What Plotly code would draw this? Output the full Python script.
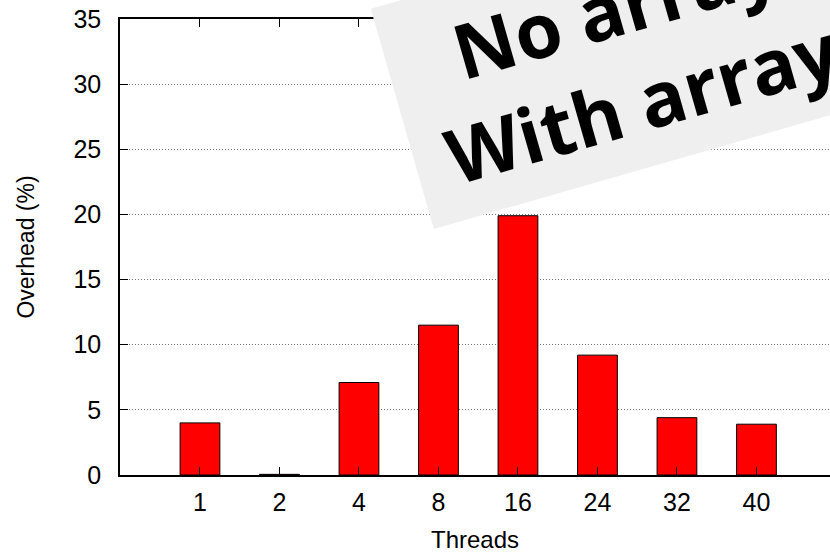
import plotly.graph_objects as go

threads = ["1", "2", "4", "8", "16", "24", "32", "40"]
overhead = [4.0, 0.05, 7.1, 11.5, 19.9, 9.2, 4.4, 3.9]
y_ticks = [0, 5, 10, 15, 20, 25, 30, 35]
note_lines = ["No arrays", "With arrays"]

fig = go.Figure()
fig.add_trace(go.Bar(
    x=threads, y=overhead, width=0.5,
    marker=dict(color="#ff0000", line=dict(color="#000000", width=1)),
))

FAM = "Liberation Sans, Arial, sans-serif"
tick_font = dict(family=FAM, size=25, color="black")
fig.update_layout(
    width=830, height=555,
    margin=dict(l=120, r=0, t=19, b=80),
    paper_bgcolor="white", plot_bgcolor="white",
    showlegend=False,
    font=tick_font,
    xaxis=dict(
        type="category", range=[-1.006, 7.925], automargin=False,
        showline=True, linecolor="black", linewidth=1.5, mirror="ticks",
        ticks="inside", ticklen=8, tickcolor="black", tickwidth=1,
        showgrid=False, tickfont=tick_font, ticklabelstandoff=4,
        title=dict(text="Threads", font=dict(family=FAM, size=24, color="black"), standoff=16),
    ),
    yaxis=dict(
        range=[0, 35], tickvals=y_ticks, automargin=False,
        showline=True, linecolor="black", linewidth=1.5,
        ticks="inside", ticklen=8, tickcolor="black", tickwidth=1,
        showgrid=True, gridcolor="#7a7a7a", griddash="1px,2px", gridwidth=1,
        zeroline=False, tickfont=tick_font, ticklabelstandoff=12,
        title=dict(text="Overhead (%)", font=dict(family=FAM, size=23, color="black"), standoff=32),
    ),
)

nb = "\u00a0"
fig.add_annotation(
    xref="paper", yref="paper",
    x=(646 - 120) / 710, y=(475 - 49) / 456,
    xanchor="center", yanchor="middle",
    text="<br>".join(nb + s + nb for s in note_lines),
    showarrow=False, textangle=-16, align="center",
    font=dict(family="Open Sans, sans-serif", size=76, color="black", weight="bold"),
    bgcolor="#efefef", borderpad=13,
)

fig.write_html("out.html", config={"displayModeBar": False},
               post_script="document.body.style.margin='0';")
